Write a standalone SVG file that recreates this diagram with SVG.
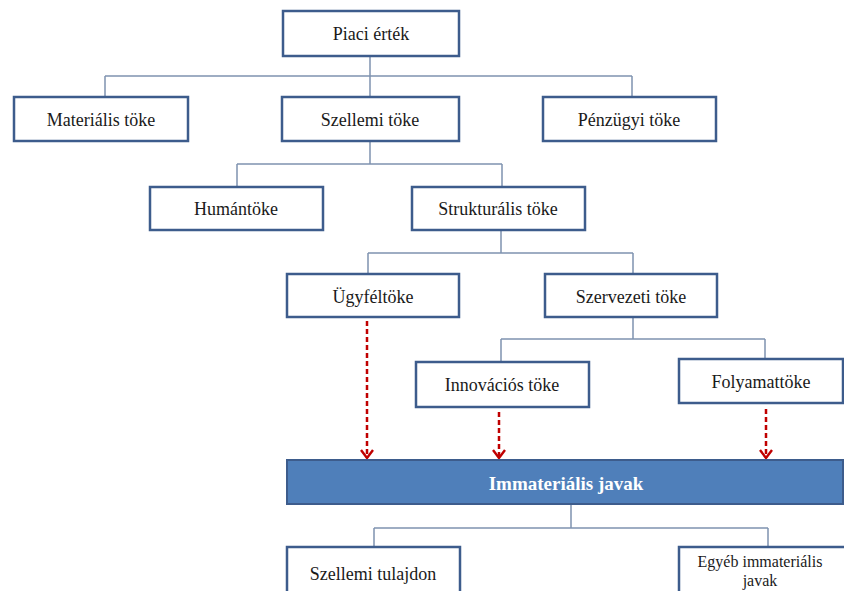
<svg xmlns="http://www.w3.org/2000/svg" width="844" height="591" viewBox="0 0 844 591">
<defs>
<style>
.box{fill:#fff;stroke:#3D5C8C;stroke-width:2.5}
.t{font-family:"Liberation Serif","DejaVu Serif",serif;font-size:18px;fill:#1a1a1a;text-anchor:middle;dominant-baseline:central}
.ln{fill:none;stroke:#7F93B0;stroke-width:1.5}
.dash{fill:none;stroke:#C00000;stroke-width:2.5;stroke-dasharray:5,3}
</style>
<marker id="ah" viewBox="0 0 12 14" refX="10" refY="7" markerWidth="12" markerHeight="14" markerUnits="userSpaceOnUse" orient="auto">
<path d="M2,1 L10,7 L2,13" fill="none" stroke="#C00000" stroke-width="2.4"/>
</marker>
</defs>
<rect width="844" height="591" fill="#fff"/>
<g id="connectors">
<path class="ln" d="M370,56 V76 M105,76 H632 M105,76 V97 M370,76 V97 M632,76 V97"/>
<path class="ln" d="M370,141 V164 M237,164 H502 M237,164 V187 M502,164 V187"/>
<path class="ln" d="M501,230 V253 M368,253 H633 M368,253 V274 M633,253 V274"/>
<path class="ln" d="M633,317 V339 M501,339 H765 M501,339 V361 M765,339 V359"/>
<path class="ln" d="M571,505 V528 M374,528 H768 M374,528 V547 M768,528 V547"/>
<path class="dash" d="M367,321 V458" marker-end="url(#ah)"/>
<path class="dash" d="M499,412 V458" marker-end="url(#ah)"/>
<path class="dash" d="M766,409 V458" marker-end="url(#ah)"/>
</g>
<g id="piaci"><rect class="box" x="283" y="11" width="176" height="45"/><text class="t" x="371" y="34">Piaci érték</text></g>
<g id="materialis"><rect class="box" x="14" y="97" width="174" height="44"/><text class="t" x="101" y="120">Materiális töke</text></g>
<g id="szellemi"><rect class="box" x="282" y="97" width="177" height="44"/><text class="t" x="370" y="120">Szellemi töke</text></g>
<g id="penzugyi"><rect class="box" x="543" y="97" width="173" height="44"/><text class="t" x="629" y="120">Pénzügyi töke</text></g>
<g id="human"><rect class="box" x="150" y="187" width="173" height="43"/><text class="t" x="236" y="209">Humántöke</text></g>
<g id="strukturalis"><rect class="box" x="412" y="187" width="173" height="43"/><text class="t" x="498" y="209">Strukturális töke</text></g>
<g id="ugyfel"><rect class="box" x="287" y="274" width="172" height="43"/><text class="t" x="373" y="297">Ügyféltöke</text></g>
<g id="szervezeti"><rect class="box" x="545" y="274" width="172" height="43"/><text class="t" x="631" y="297">Szervezeti töke</text></g>
<g id="innovacios"><rect class="box" x="416" y="362" width="173" height="45"/><text class="t" x="502" y="385">Innovációs töke</text></g>
<g id="folyamat"><rect class="box" x="679" y="359" width="164" height="44"/><text class="t" x="761" y="382">Folyamattöke</text></g>
<g id="immaterialis"><rect x="287" y="460" width="556" height="44" fill="#4F7FBA" stroke="#3D5C8C" stroke-width="2"/><text class="t" x="566" y="483" style="fill:#fff;font-weight:bold;font-size:19px">Immateriális javak</text></g>
<g id="szellemitulajdon"><rect class="box" x="287" y="547" width="173" height="50"/><text class="t" x="373" y="574">Szellemi tulajdon</text></g>
<g id="egyeb"><rect class="box" x="679" y="547" width="170" height="50"/><text class="t" x="760" y="561" style="font-size:16px">Egyéb immateriális</text><text class="t" x="760" y="580" style="font-size:16px">javak</text></g>
</svg>
